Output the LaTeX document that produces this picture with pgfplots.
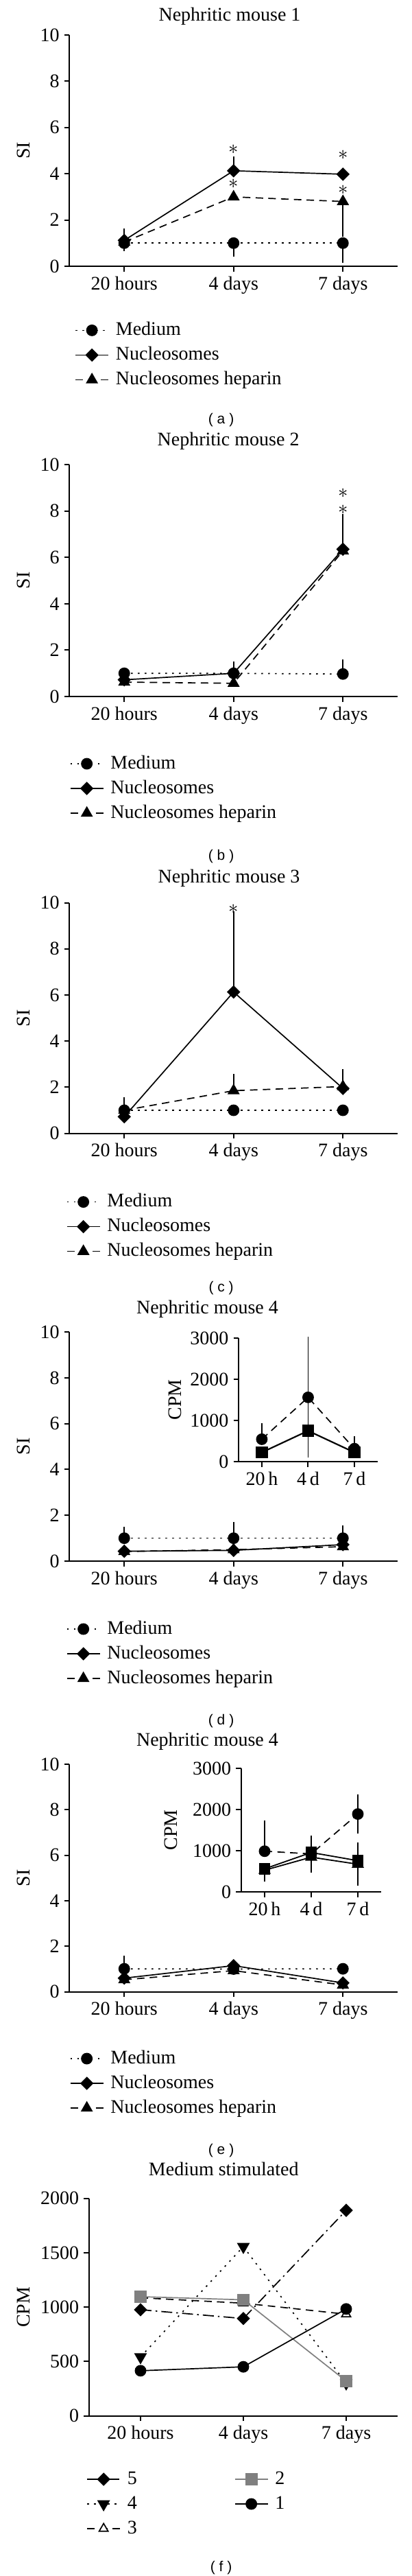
\documentclass[border=0pt]{standalone}
\usepackage{fontspec}
\setmainfont{Liberation Serif}
\newfontfamily\labfont{Liberation Sans}
\usepackage{pgfplots}
\pgfplotsset{compat=1.18}
\newcommand{\figfont}{\fontsize{14}{16.8}\selectfont}

\pgfplotsset{
  base/.style={
    scale only axis, clip=false,
    axis x line*=bottom, axis y line*=left,
    xmin=-0.5, xmax=2.5, xtick={0,1,2},
    tick align=outside, major tick length=3.85pt,
    axis line style={line width=1pt},
    tick style={line width=1pt, black},
    tick label style={font=\figfont},
    label style={font=\figfont},
    title style={font=\figfont, anchor=center},
    /pgf/number format/assume math mode=true,
    /pgf/number format/1000 sep={},
    legend cell align=left,
    legend image code/.code={\draw[mark repeat=2, mark phase=2] plot coordinates {(0cm,0cm) (0.42cm,0cm) (0.84cm,0cm)};},
    legend style={draw=none, fill=none, font=\figfont, inner sep=0pt, row sep=2pt, column sep=4pt,
      at={(0,0)}, anchor=north west, nodes={inner sep=1pt, text height=10.5pt, text depth=3.5pt}},
  },
  si/.style={base, width=239.25pt, ymin=0, ymax=10, ytick={0,2,...,10},
    xticklabels={20 hours,4 days,7 days}, ylabel={SI},
    ylabel style={at={(axis description cs:-0.14,0.5)}, anchor=center},
    x axis line style={shorten <=-3.8pt}},
  inset/.style={base, width=101.25pt, height=90pt, ymin=0, ymax=3000, ytick={0,1000,2000,3000},
    xticklabels={20\,h,4\,d,7\,d}, ylabel={CPM}, x axis line style={shorten <=-3pt}},
  med/.style={black, line width=0.85pt, dash pattern=on 1.2pt off 3.8pt, mark=*, mark size=3.8pt, mark options={solid, fill=black}},
  nuc/.style={black, line width=0.85pt, solid, mark=square*, mark size=3pt, mark options={solid, rotate=45, fill=black}},
  hep/.style={black, line width=0.85pt, dash pattern=on 5.5pt off 3.8pt, mark=triangle*, mark size=4.3pt, mark options={solid, fill=black}},
  dsh/.style={black, line width=0.85pt, dash pattern=on 5.5pt off 3.8pt},
  ebar/.style={forget plot, black, only marks, mark=none,
    /pgfplots/error bars/y explicit,
    /pgfplots/error bars/error bar style={black, solid, line width=0.9pt},
    /pgfplots/error bars/error mark options={black, solid, line width=0.9pt, mark size=3.75pt}},
  eplus/.style={ebar, /pgfplots/error bars/y dir=plus},
  eminus/.style={ebar, /pgfplots/error bars/y dir=minus},
  eboth/.style={ebar, /pgfplots/error bars/y dir=both},
  stars/.style={forget plot, draw=none, mark=none, nodes near coords={$\ast$},
    every node near coord/.style={anchor=center, inner sep=0pt, text=black, font=\fontsize{14}{14}\selectfont}},
}

\begin{document}
\begin{tikzpicture}
\useasboundingbox (0,0) rectangle (300pt,-1877pt);

% (a)
\begin{axis}[si, height=168.5pt, at={(50.75pt,-194pt)}, anchor=south west,
  title={Nephritic mouse 1}, title style={at={(axis description cs:0.488,1)}, yshift=7.5pt},
  legend style={xshift=3.75pt, yshift=-38.5pt}]
\addplot[eplus] coordinates {(0,1.12) +- (0,0.29) (1,4.13) +- (0,0.40)};
\addplot[eminus] coordinates {(0,1.0) +- (0,0.12) (1,1.0) +- (0,0.37) (2,1.0) +- (0,0.62) (2,2.8) +- (0,1.3)};
\addplot[med] coordinates {(0,1.0) (1,1.0) (2,1.0)}; \addlegendentry{Medium}
\addplot[nuc] coordinates {(0,1.12) (1,4.13) (2,3.98)}; \addlegendentry{Nucleosomes}
\addplot[hep] coordinates {(0,1.05) (1,3.0) (2,2.8)}; \addlegendentry{Nucleosomes heparin}
\addplot[stars] coordinates {(1,5.06) (1,3.57) (2,4.8) (2,3.3)};
\end{axis}
\node[font=\labfont\fontsize{10.5}{12}\selectfont] at (161.3pt,-306pt) {( a )};

% (b)
\begin{axis}[si, height=169pt, at={(50.75pt,-507.5pt)}, anchor=south west,
  title={Nephritic mouse 2}, title style={at={(axis description cs:0.484,1)}, yshift=11pt},
  legend style={xshift=0pt, yshift=-40.8pt}]
\addplot[eplus] coordinates {(1,1.0) +- (0,0.28) (2,6.35) +- (0,0.73) (2,6.28) +- (0,1.36) (2,0.97) +- (0,0.4)};
\addplot[med] coordinates {(0,1.0) (1,1.0) (2,0.97)}; \addlegendentry{Medium}
\addplot[nuc] coordinates {(0,0.72) (1,1.0) (2,6.35)}; \addlegendentry{Nucleosomes}
\addplot[hep] coordinates {(0,0.62) (1,0.57) (2,6.28)}; \addlegendentry{Nucleosomes heparin}
\addplot[stars] coordinates {(2,8.75) (2,8.05)};
\end{axis}
\node[font=\labfont\fontsize{10.5}{12}\selectfont] at (161.3pt,-624pt) {( b )};

% (c)
\begin{axis}[si, height=168pt, at={(50.75pt,-825.8pt)}, anchor=south west,
  title={Nephritic mouse 3}, title style={at={(axis description cs:0.486,1)}, yshift=11.75pt},
  legend style={xshift=-2.5pt, yshift=-41.8pt}]
\addplot[eplus] coordinates {(0,1.0) +- (0,0.35) (0,1.0) +- (0,0.2) (1,6.13) +- (0,3.28) (1,1.85) +- (0,0.5) (2,2.03) +- (0,0.54)};
\addplot[med] coordinates {(0,1.0) (1,1.0) (2,1.0)}; \addlegendentry{Medium}
\addplot[nuc] coordinates {(0,0.72) (1,6.13) (2,1.95)}; \addlegendentry{Nucleosomes}
\addplot[hep] coordinates {(0,1.0) (1,1.85) (2,2.03)}; \addlegendentry{Nucleosomes heparin}
\addplot[stars] coordinates {(1,9.74)};
\end{axis}
\node[font=\labfont\fontsize{10.5}{12}\selectfont] at (161.3pt,-938.5pt) {( c )};

% (d)
\begin{axis}[si, height=167pt, at={(50.75pt,-1137.5pt)}, anchor=south west,
  title={Nephritic mouse 4}, title style={at={(axis description cs:0.42,1)}, yshift=10.5pt},
  legend style={xshift=-2.5pt, yshift=-41.3pt}]
\addplot[eplus] coordinates {(0,1.0) +- (0,0.28) (1,1.0) +- (0,0.48) (2,1.0) +- (0,0.34)};
\addplot[med] coordinates {(0,1.0) (1,1.0) (2,1.0)}; \addlegendentry{Medium}
\addplot[nuc] coordinates {(0,0.43) (1,0.47) (2,0.72)}; \addlegendentry{Nucleosomes}
\addplot[hep] coordinates {(0,0.42) (1,0.5) (2,0.63)}; \addlegendentry{Nucleosomes heparin}
\end{axis}
\begin{axis}[inset, at={(174.1pt,-1065pt)}, anchor=south west,
  ylabel style={at={(axis description cs:-0.46,0.5)}, anchor=center}]
\addplot[eplus] coordinates {(0,544) +- (0,270) (2,314) +- (0,180) (1,749) +- (0,333)};
\addplot[eminus] coordinates {(1,749) +- (0,307)};
\addplot[eboth] coordinates {(1,1561) +- (0,1340)};
\addplot[dsh, mark=*, mark size=3.8pt, mark options={solid, fill=black}] coordinates {(0,544) (1,1561) (2,314)};
\addplot[black, line width=1.1pt, mark=square*, mark size=3.75pt, mark options={solid, fill=black}] coordinates {(0,224) (1,749) (2,224)};
\end{axis}
\node[font=\labfont\fontsize{10.5}{12}\selectfont] at (161.3pt,-1254pt) {( d )};

% (e)
\begin{axis}[si, height=165.8pt, at={(50.75pt,-1451.3pt)}, anchor=south west,
  title={Nephritic mouse 4}, title style={at={(axis description cs:0.42,1)}, yshift=10.5pt},
  legend style={xshift=0pt, yshift=-40.5pt}]
\addplot[eplus] coordinates {(0,1.01) +- (0,0.34)};
\addplot[med] coordinates {(0,1.01) (1,1.0) (2,1.01)}; \addlegendentry{Medium}
\addplot[nuc] coordinates {(0,0.6) (1,1.15) (2,0.39)}; \addlegendentry{Nucleosomes}
\addplot[hep] coordinates {(0,0.53) (1,0.93) (2,0.3)}; \addlegendentry{Nucleosomes heparin}
\end{axis}
\begin{axis}[inset, at={(176pt,-1378.5pt)}, anchor=south west, width=102pt,
  ylabel style={at={(axis description cs:-0.505,0.5)}, anchor=center}]
\addplot[eplus] coordinates {(0,988) +- (0,627) (1,956) +- (0,283) (2,758) +- (0,316)};
\addplot[eminus] coordinates {(0,560) +- (0,185) (1,843) +- (0,253) (2,672) +- (0,389)};
\addplot[eboth] coordinates {(2,1891) +- (0,355)};
\addplot[dsh, mark=*, mark size=3.8pt, mark options={solid, fill=black}] coordinates {(0,988) (1,923) (2,1891)};
\addplot[black, line width=0.9pt, mark=triangle*, mark size=4.3pt, mark options={solid, fill=black}] coordinates {(0,527) (1,843) (2,672)};
\addplot[black, line width=0.9pt, mark=square*, mark size=3.75pt, mark options={solid, fill=black}] coordinates {(0,560) (1,956) (2,758)};
\end{axis}
\node[font=\labfont\fontsize{10.5}{12}\selectfont] at (161.3pt,-1567pt) {( e )};

% (f)
\begin{axis}[base, width=225pt, height=158.5pt, at={(65pt,-1760.3pt)}, anchor=south west,
  ymin=0, ymax=2000, ytick={0,500,...,2000}, xticklabels={20 hours,4 days,7 days},
  ylabel={CPM}, ylabel style={at={(axis description cs:-0.212,0.5)}, anchor=center},
  x axis line style={shorten <=-2.9pt},
  title={Medium stimulated}, title style={at={(axis description cs:0.436,1)}, yshift=15.5pt},
  legend columns=2, legend style={xshift=-2pt, yshift=-38pt, /tikz/column 2/.style={column sep=70pt}}]
\addplot[forget plot, black, line width=0.85pt, dash pattern=on 8pt off 3pt on 1.2pt off 3pt, mark=square*, mark size=3pt, mark options={solid, rotate=45, fill=black}]
  coordinates {(0,976) (1,895) (2,1890)};
\addplot[forget plot, black, line width=0.85pt, dash pattern=on 1.2pt off 3.8pt, mark=triangle*, mark size=4.6pt, mark options={solid, rotate=180, fill=black}]
  coordinates {(0,542) (1,1556) (2,300)};
\addplot[forget plot, black, line width=0.85pt, dash pattern=on 5.5pt off 3.8pt, mark=triangle*, mark size=3.8pt, mark options={solid, fill=white, draw=black}]
  coordinates {(0,1086) (1,1036) (2,935)};
\addplot[forget plot, gray, line width=0.85pt, solid, mark=square*, mark size=4pt, mark options={solid, fill=gray, draw=gray}]
  coordinates {(0,1096) (1,1067) (2,320)};
\addplot[forget plot, black, line width=0.85pt, solid, mark=*, mark size=3.8pt, mark options={solid, fill=black}]
  coordinates {(0,415) (1,451) (2,983)};
\addlegendimage{black, line width=0.85pt, dash pattern=on 8pt off 3pt on 1.2pt off 3pt, mark=square*, mark size=3pt, mark options={solid, rotate=45, fill=black}}
\addlegendentry{5}
\addlegendimage{gray, line width=0.85pt, solid, mark=square*, mark size=4pt, mark options={solid, fill=gray, draw=gray}}
\addlegendentry{2}
\addlegendimage{black, line width=0.85pt, dash pattern=on 1.2pt off 3.8pt, mark=triangle*, mark size=4.6pt, mark options={solid, rotate=180, fill=black}}
\addlegendentry{4}
\addlegendimage{black, line width=0.85pt, solid, mark=*, mark size=3.8pt, mark options={solid, fill=black}}
\addlegendentry{1}
\addlegendimage{black, line width=0.85pt, dash pattern=on 5.5pt off 3.8pt, mark=triangle*, mark size=3.8pt, mark options={solid, fill=white, draw=black}}
\addlegendentry{3}
\end{axis}
\node[font=\labfont\fontsize{10.5}{12}\selectfont] at (161.3pt,-1871pt) {( f )};
\end{tikzpicture}
\end{document}
